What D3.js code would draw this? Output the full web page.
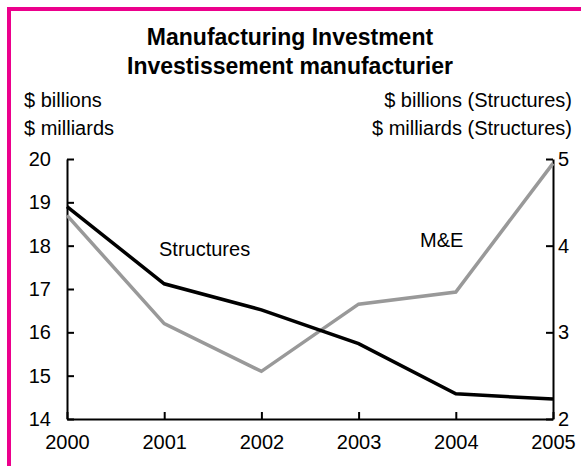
<!DOCTYPE html>
<html>
<head>
<meta charset="utf-8">
<script src="https://cdn.jsdelivr.net/npm/d3@7"></script>
<style>
  body { margin: 0; background: #ffffff; }
  svg { display: block; }
  text { font-family: "Liberation Sans", Arial, sans-serif; fill: #000; }
</style>
</head>
<body>
<svg id="chart" width="581" height="466"></svg>
<script>
var years = [2000, 2001, 2002, 2003, 2004, 2005];
// M&E, left axis ($ billions)
var machinery = [18.7, 16.2, 15.1, 16.65, 16.93, 19.9];
// Structures, right axis ($ billions)
var structures = [4.45, 3.56, 3.26, 2.87, 2.29, 2.23];
var leftTicks = [14, 15, 16, 17, 18, 19, 20];
var rightTicks = [2, 3, 4, 5];

var svg = d3.select("#chart"),
  margin = {
    "top": 159,
    "bottom": 47,
    "left": 67,
    "right": 28
  },
  width = 581 - margin.left - margin.right,
  height = 466 - margin.top - margin.bottom;

// pink frame, runs off the right and bottom edge
svg.append("rect")
  .attr("x", 9)
  .attr("y", 9)
  .attr("width", 620)
  .attr("height", 520)
  .attr("fill", "none")
  .attr("stroke", "#ec008c")
  .attr("stroke-width", 4);

svg.append("text")
  .attr("x", 290)
  .attr("y", 45)
  .attr("text-anchor", "middle")
  .style("font-size", "23px")
  .style("font-weight", "bold")
  .text("Manufacturing Investment");
svg.append("text")
  .attr("x", 290)
  .attr("y", 74)
  .attr("text-anchor", "middle")
  .style("font-size", "23px")
  .style("font-weight", "bold")
  .text("Investissement manufacturier");

svg.append("text").attr("x", 24).attr("y", 107).style("font-size", "20px").text("$ billions");
svg.append("text").attr("x", 24).attr("y", 135).style("font-size", "20px").text("$ milliards");
svg.append("text").attr("x", 572).attr("y", 107).attr("text-anchor", "end")
  .style("font-size", "20px").text("$ billions (Structures)");
svg.append("text").attr("x", 572).attr("y", 135).attr("text-anchor", "end")
  .style("font-size", "20px").text("$ milliards (Structures)");

var x = d3.scaleLinear().domain([2000, 2005]).range([0, width]);
var yLeft = d3.scaleLinear().domain([14, 20]).range([height, 0]);
var yRight = d3.scaleLinear().domain([2, 5]).range([height, 0]);

var g = svg.append("g")
  .attr("transform", "translate(" + margin.left + "," + margin.top + ")");

function styleAxis(sel, dx, dy) {
  sel.select(".domain").attr("stroke", "#000").attr("stroke-width", 2);
  sel.selectAll(".tick line").attr("stroke", "#000").attr("stroke-width", 2);
  sel.selectAll(".tick text")
    .style("font-size", "20px")
    .attr("fill", "#000")
    .attr("dx", dx)
    .attr("dy", dy);
}

g.append("g")
  .attr("transform", "translate(0," + height + ")")
  .call(d3.axisBottom(x).tickValues(years).tickFormat(d3.format("d"))
    .tickSizeInner(-7).tickSizeOuter(0).tickPadding(16))
  .call(styleAxis, 0, "0.71em");

g.append("g")
  .call(d3.axisLeft(yLeft).tickValues(leftTicks).tickFormat(d3.format("d"))
    .tickSizeInner(-7).tickSizeOuter(0).tickPadding(16))
  .call(styleAxis, 0, "0.32em");

g.append("g")
  .attr("transform", "translate(" + width + ",0)")
  .call(d3.axisRight(yRight).tickValues(rightTicks).tickFormat(d3.format("d"))
    .tickSizeInner(-7).tickSizeOuter(0).tickPadding(5))
  .call(styleAxis, 0, "0.32em");

var lineLeft = d3.line()
  .x(function(d, i) { return x(years[i]); })
  .y(function(d) { return yLeft(d); });
var lineRight = d3.line()
  .x(function(d, i) { return x(years[i]); })
  .y(function(d) { return yRight(d); });

g.append("path")
  .datum(machinery)
  .attr("d", lineLeft)
  .attr("fill", "none")
  .attr("stroke", "#999999")
  .attr("stroke-width", 3.5);

g.append("path")
  .datum(structures)
  .attr("d", lineRight)
  .attr("fill", "none")
  .attr("stroke", "#000000")
  .attr("stroke-width", 3.5);

// series labels
svg.append("text").attr("x", 159).attr("y", 256).style("font-size", "20px").text("Structures");
svg.append("text").attr("x", 420).attr("y", 247).style("font-size", "20px").text("M&E");
</script>
</body>
</html>
